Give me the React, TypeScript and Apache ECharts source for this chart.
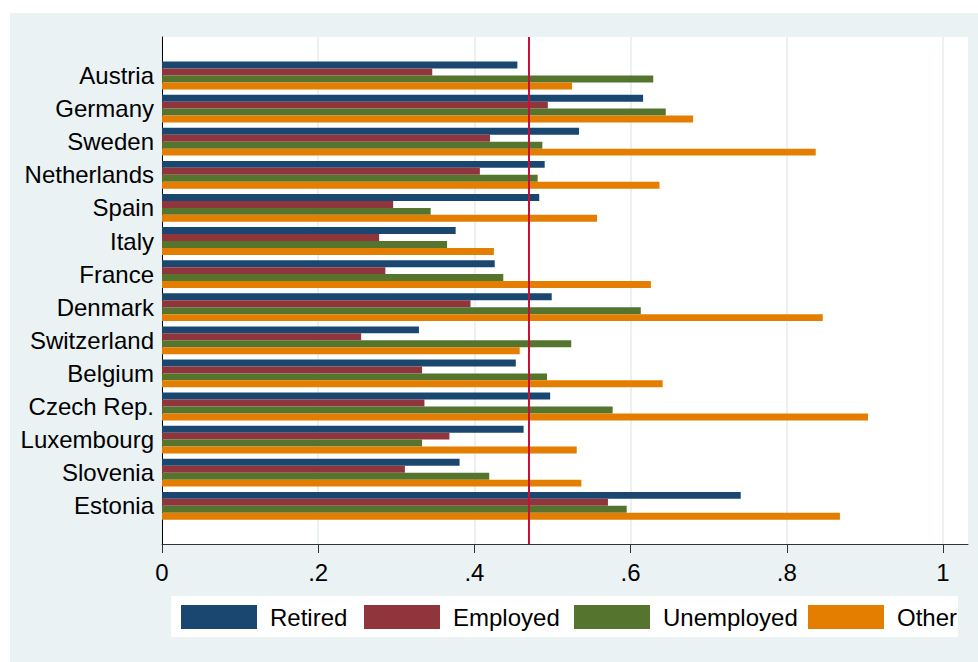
import React, { useEffect, useRef } from "react";
import * as echarts from "echarts";

const categories = [
  "Austria", "Germany", "Sweden", "Netherlands", "Spain", "Italy", "France",
  "Denmark", "Switzerland", "Belgium", "Czech Rep.", "Luxembourg", "Slovenia", "Estonia",
];
const retired = [0.455, 0.616, 0.534, 0.490, 0.483, 0.376, 0.426, 0.499, 0.329, 0.453, 0.497, 0.463, 0.381, 0.741];
const employed = [0.346, 0.494, 0.420, 0.407, 0.296, 0.278, 0.286, 0.395, 0.255, 0.333, 0.336, 0.368, 0.311, 0.571];
const unemployed = [0.629, 0.645, 0.487, 0.481, 0.344, 0.365, 0.437, 0.613, 0.524, 0.493, 0.577, 0.333, 0.419, 0.595];
const other = [0.525, 0.680, 0.837, 0.637, 0.557, 0.425, 0.626, 0.846, 0.458, 0.641, 0.904, 0.531, 0.537, 0.868];
const referenceValue = 0.467;
const xTicks = [0, 0.2, 0.4, 0.6, 0.8, 1];

const seriesNames = ["Retired", "Employed", "Unemployed", "Other"];
const seriesData = [retired, employed, unemployed, other];
const colors = ["#1a476f", "#90353b", "#55752f", "#e37e00"];

const FONT = "'Liberation Sans', Arial, Helvetica, sans-serif";
const X_MAX = 1.032;

function fmt(v: number): string {
  if (Math.abs(v) < 1e-9) return "0";
  if (Math.abs(v - 1) < 1e-9) return "1";
  return String(+v.toFixed(1)).replace(/^0/, "");
}

export default function App() {
  const ref = useRef<HTMLDivElement>(null);
  useEffect(() => {
    if (!ref.current) return;
    const chart = echarts.init(ref.current, undefined, { renderer: "svg" });
    const legendLefts = [181, 364, 574, 808];
    const option: any = {
      animation: false,
      backgroundColor: "#ffffff",
      textStyle: { fontFamily: FONT },
      graphic: [
        { type: "rect", z: -10, silent: true, shape: { x: 10, y: 13, width: 968, height: 649 }, style: { fill: "#eaf2f3" } },
        { type: "rect", z: -5, silent: true, shape: { x: 171, y: 596, width: 787, height: 41 }, style: { fill: "#ffffff" } },
      ],
      grid: [
        { left: 162, top: 37, width: 806, height: 507, show: true, backgroundColor: "#ffffff", borderWidth: 0 },
        { left: 162, top: 58.95, width: 806, height: 463.4 },
      ],
      xAxis: [
        {
          gridIndex: 0, type: "value", min: 0, max: X_MAX, interval: 0.2,
          axisLine: { show: true, lineStyle: { color: "#333333", width: 1 } },
          axisTick: { show: true, length: 9, customValues: xTicks, lineStyle: { color: "#333333" } },
          axisLabel: { customValues: xTicks, formatter: fmt, margin: 16, fontSize: 24, color: "#000", fontFamily: FONT },
          splitLine: { show: true, lineStyle: { color: "#e6eef0", width: 1.6 } },
        },
        { gridIndex: 1, type: "value", min: 0, max: X_MAX, show: false },
      ],
      yAxis: [
        {
          gridIndex: 0, type: "value", min: 0, max: 1,
          axisLine: { show: true, onZero: false, lineStyle: { color: "#000000", width: 1 } },
          axisTick: { show: false }, axisLabel: { show: false }, splitLine: { show: false },
        },
        {
          gridIndex: 1, type: "category", data: categories, inverse: true,
          axisLine: { show: false }, axisTick: { show: false },
          axisLabel: { margin: 8, fontSize: 24, color: "#000", fontFamily: FONT },
          splitLine: { show: false },
        },
      ],
      legend: seriesNames.map((n, i) => ({
        data: [n], left: legendLefts[i], top: 605, padding: 0,
        itemWidth: 76, itemHeight: 24, icon: "rect",
        textStyle: { fontSize: 24, color: "#000", fontFamily: FONT, padding: [0, 0, 0, 8] },
        selectedMode: false,
      })),
      series: [
        ...seriesNames.map((n, i) => ({
          name: n, type: "bar", xAxisIndex: 1, yAxisIndex: 1,
          data: seriesData[i], barGap: "0%", barCategoryGap: "16%",
          itemStyle: { color: colors[i] }, silent: true,
        })),
        {
          type: "line", xAxisIndex: 0, yAxisIndex: 0, data: [], silent: true,
          markLine: {
            silent: true, symbol: "none", label: { show: false },
            lineStyle: { color: "#c80f3a", width: 2, type: "solid" },
            data: [{ xAxis: referenceValue }],
          },
        },
      ],
    };
    chart.setOption(option);
    return () => chart.dispose();
  }, []);
  return <div ref={ref} style={{ position: "fixed", left: 0, top: 0, width: 978, height: 662 }} />;
}
